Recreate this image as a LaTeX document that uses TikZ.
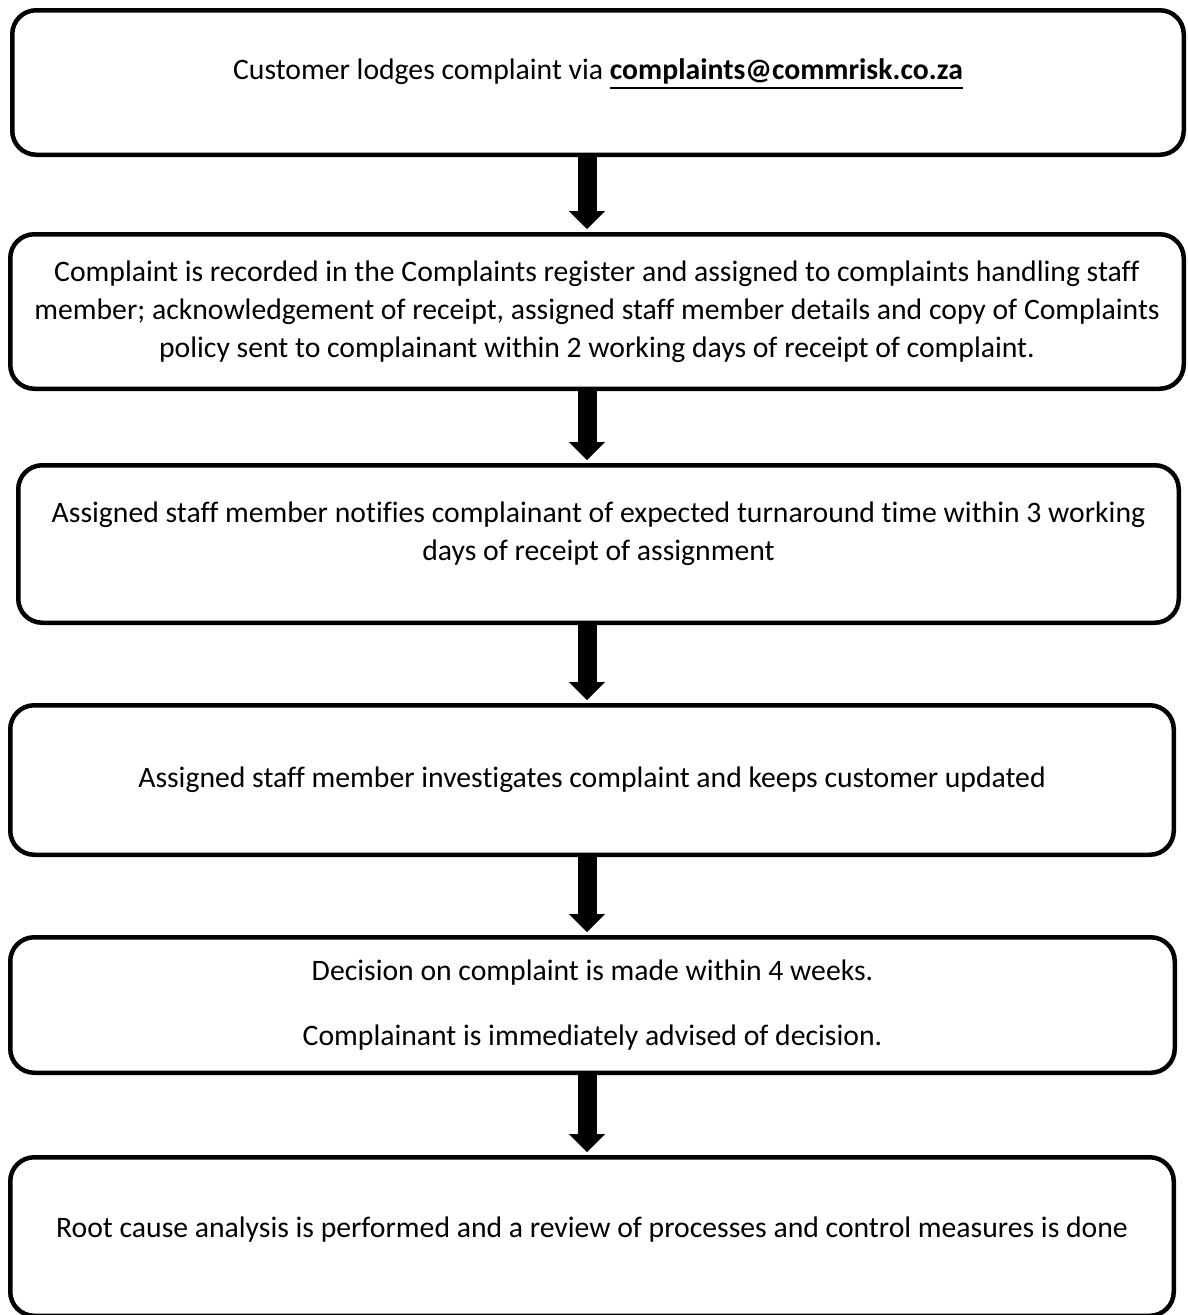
\documentclass[tikz,border=0pt]{standalone}
\usepackage{fontspec}
\setmainfont{Carlito}[Ligatures=NoCommon]
\usetikzlibrary{arrows.meta}
\newcommand\emailline[1]{\setbox0\hbox{#1}\rlap{\rule[-9.5pt]{\wd0}{2.5pt}}\box0}

\begin{document}
\begin{tikzpicture}[x=1pt, y=-1pt,
  every node/.append style={font=\fontsize{29.7pt}{38pt}\selectfont},
  stepbox/.style={draw, line width=4.5pt, rounded corners=24pt, align=center, inner sep=0pt},
  flowarrow/.style={line width=19pt, -{Triangle[width=36pt, length=18pt, line width=0.1pt]}, shorten >=3pt}]
% page
\path[use as bounding box, fill=white] (0,0) rectangle (1188,1315);

% steps
\node[stepbox, minimum width=1171.5pt, minimum height=144.5pt, text depth=26pt] (lodge) at (598,82.5)
  {Customer lodges complaint via \emailline{\textbf{complaints@commrisk.co.za}}};
\node[stepbox, minimum width=1173.5pt, minimum height=154.5pt] (record) at (597,311.5)
  {Complaint is recorded in the Complaints register and assigned to complaints handling staff\\
   member; acknowledgement of receipt, assigned staff member details and copy of Complaints\\
   policy sent to complainant within 2 working days of receipt of complaint.};
\node[stepbox, minimum width=1160.5pt, minimum height=157.5pt, text depth=25pt] (notify) at (598.5,544)
  {Assigned staff member notifies complainant of expected turnaround time within 3 working\\
   days of receipt of assignment};
\node[stepbox, minimum width=1163.5pt, minimum height=149.5pt] (investigate) at (592,780)
  {Assigned staff member investigates complaint and keeps customer updated};
\node[stepbox, minimum width=1164.5pt, minimum height=135.5pt] (decide) at (592.5,1005)
  {Decision on complaint is made within 4 weeks.\\[27pt]
   Complainant is immediately advised of decision.};
\node[stepbox, minimum width=1163.5pt, minimum height=158.5pt, text depth=19pt] (review) at (592,1236.5)
  {Root cause analysis is performed and a review of processes and control measures is done};

% arrows
\coordinate (spine) at (587,0);
\foreach \from/\to in {lodge/record, record/notify, notify/investigate, investigate/decide, decide/review}
  \draw[flowarrow] (\from.south -| spine) -- (\to.north -| spine);

\end{tikzpicture}
\end{document}
